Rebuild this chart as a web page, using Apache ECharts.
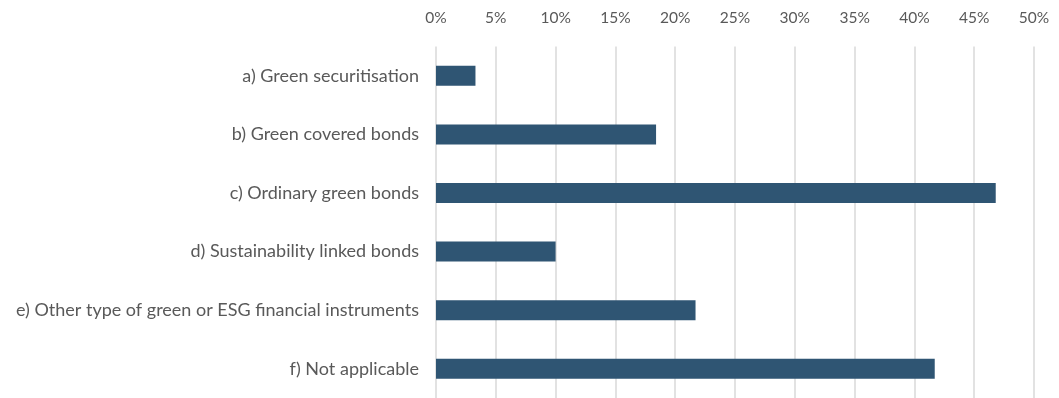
<!DOCTYPE html>
<html>
<head>
<meta charset="utf-8">
<script src="https://cdn.jsdelivr.net/npm/echarts@6/dist/echarts.min.js"></script>
<style>
  html, body { margin: 0; padding: 0; background: #fff; }
  #chart { width: 1059px; height: 398px; }
</style>
</head>
<body>
<div id="chart"></div>
<script>
const categories = [
  "a) Green securitisation",
  "b) Green covered bonds",
  "c) Ordinary green bonds",
  "d) Sustainability linked bonds",
  "e) Other type of green or ESG financial instruments",
  "f) Not applicable"
];
const shares = [3.3, 18.4, 46.8, 10.0, 21.7, 41.7];
const tickStep = 5;

const chart = echarts.init(document.getElementById("chart"));
chart.setOption({
  animation: false,
  grid: { left: 436, right: 25, top: 46.5, height: 355.5 },
  xAxis: {
    type: "value",
    position: "top",
    min: 0,
    max: 50,
    interval: tickStep,
    axisLine: { show: false },
    axisTick: { show: false },
    axisLabel: {
      formatter: (v) => v + "%",
      color: "#595959",
      fontFamily: "Lato",
      fontSize: 15.5,
      margin: 21
    },
    splitLine: { lineStyle: { color: "#d9d9d9", width: 1.5 } }
  },
  yAxis: {
    type: "category",
    inverse: true,
    data: categories,
    axisLine: { show: false },
    axisTick: { show: false },
    axisLabel: {
      color: "#595959",
      fontFamily: "Lato",
      fontSize: 18,
      margin: 17
    }
  },
  series: [{
    type: "bar",
    data: shares,
    barWidth: 20,
    itemStyle: { color: "#2f5573" }
  }]
});
</script>
</body>
</html>
